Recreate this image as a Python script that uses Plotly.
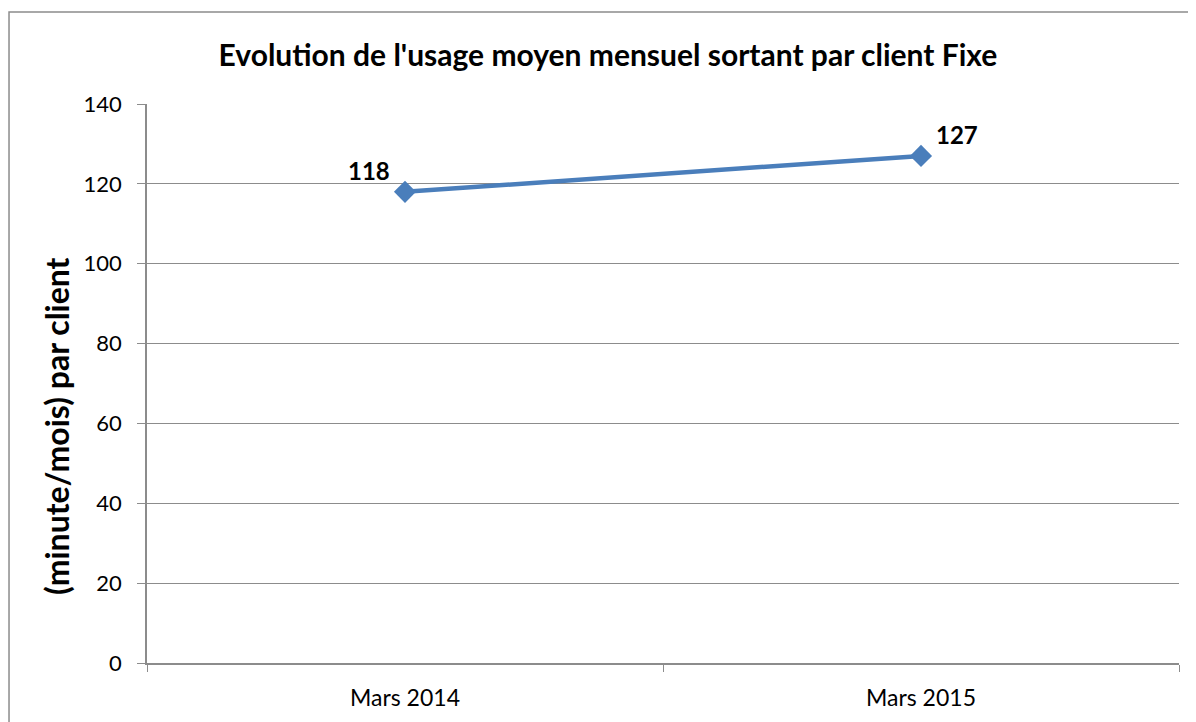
import plotly.graph_objects as go

categories = ["Mars 2014", "Mars 2015"]
values = [118, 127]
value_labels = ["118", "127"]
label_shift_x = [-36, 36]
y_ticks = [0, 20, 40, 60, 80, 100, 120, 140]

FONT = "Lato, Calibri, Carlito, 'Open Sans', sans-serif"
GRID = "#8c8c8c"

fig = go.Figure()
fig.add_trace(go.Scatter(
    x=categories, y=values,
    mode="lines+markers",
    line=dict(color="#4a7ebb", width=4.5),
    marker=dict(symbol="diamond", size=17, color="#4a7ebb"),
    cliponaxis=False,
    showlegend=False,
))

annotations = [
    dict(x=c, y=v, xref="x", yref="y", text=f"<b>{t}</b>", showarrow=False,
         xanchor="center", yanchor="middle", xshift=dx, yshift=21,
         font=dict(family=FONT, size=24, color="black"))
    for c, v, t, dx in zip(categories, values, value_labels, label_shift_x)
]
annotations.append(dict(
    text="<b>(minute/mois) par client</b>", textangle=-90, showarrow=False,
    xref="paper", yref="paper", x=-0.0872, y=0.424,
    xanchor="center", yanchor="middle",
    font=dict(family=FONT, size=32, color="black"),
))

fig.update_layout(
    width=1188, height=714,
    margin=dict(l=139, r=17, t=96, b=59),
    paper_bgcolor="white", plot_bgcolor="white",
    font=dict(family=FONT, size=22, color="black"),
    title=dict(
        text="<b>Evolution de l'usage moyen mensuel sortant par client Fixe</b>",
        x=0.505, xref="container", xanchor="center",
        y=0.934, yref="container", yanchor="middle",
        font=dict(family=FONT, size=30, color="black"),
    ),
    xaxis=dict(
        type="category", range=[-0.5, 1.5],
        tickson="boundaries", ticks="outside", ticklen=7, tickcolor=GRID,
        showline=True, linecolor=GRID, linewidth=1.5,
        showgrid=False, zeroline=False,
        tickfont=dict(family=FONT, size=23),
        ticklabelstandoff=14,
    ),
    yaxis=dict(
        range=[0, 140], tickvals=y_ticks,
        ticks="outside", ticklen=8, tickcolor=GRID,
        showline=True, linecolor=GRID, linewidth=1.5,
        showgrid=True, gridcolor=GRID, gridwidth=1.2, zeroline=False,
        tickfont=dict(family=FONT, size=22),
        ticklabelstandoff=11,
    ),
    annotations=annotations,
    shapes=[dict(
        type="rect", xref="paper", yref="paper",
        x0=-0.1337, x1=1.05, y0=-0.2, y1=1.1646,
        line=dict(color="#8c8c8c", width=1.5), fillcolor="rgba(0,0,0,0)",
        layer="below",
    )],
)

fig.write_html("out.html")
